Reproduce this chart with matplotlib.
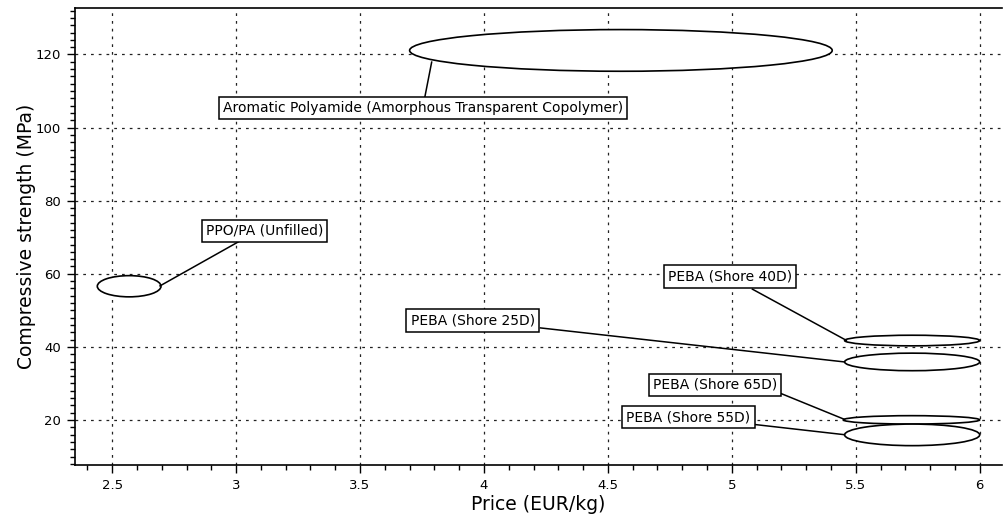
import matplotlib
matplotlib.use("Agg")
import matplotlib.pyplot as plt
from matplotlib.patches import Ellipse
from matplotlib.ticker import MultipleLocator

# Material bubbles: price (EUR/kg) range and compressive strength (MPa) range
materials = ["Aromatic Polyamide (Amorphous Transparent Copolymer)",
             "PPO/PA (Unfilled)",
             "PEBA (Shore 40D)",
             "PEBA (Shore 25D)",
             "PEBA (Shore 65D)",
             "PEBA (Shore 55D)"]
price_lo = [3.70, 2.44, 5.455, 5.455, 5.45, 5.455]
price_hi = [5.405, 2.697, 6.0, 6.0, 6.0, 6.0]
strength_lo = [115.4, 53.7, 40.3, 33.5, 18.9, 13.0]
strength_hi = [126.8, 59.5, 43.2, 38.3, 21.2, 18.9]

# Label box centres and leader-line endpoints
label_x = [3.753, 3.115, 4.993, 3.954, 4.932, 4.825]
label_y = [105.4, 71.8, 59.3, 47.2, 29.6, 20.8]
leader_from_x = [3.761, 3.008, 5.083, 4.228, 5.139, 5.09]
leader_from_y = [108.2, 68.7, 55.8, 45.2, 28.9, 18.8]
leader_to_x = [3.789, 2.693, 5.462, 5.454, 5.454, 5.454]
leader_to_y = [117.9, 56.7, 41.8, 35.9, 20.2, 16.0]

xticks = [2.5, 3, 3.5, 4, 4.5, 5, 5.5, 6]
xticklabels = ["2.5", "3", "3.5", "4", "4.5", "5", "5.5", "6"]
yticks = [20, 40, 60, 80, 100, 120]

plt.rcParams['font.family'] = ['DejaVu Sans']

fig = plt.figure(figsize=(10.04, 5.27), dpi=100)
ax = fig.add_axes([0.0747, 0.1176, 0.9233, 0.8672])
ax.set_xlim(2.35, 6.09)
ax.set_ylim(7.7, 132.7)

ax.grid(True, which='major', color='#222222', linestyle=(0, (2.2, 4.0)), linewidth=0.9)
ax.set_axisbelow(True)

for i, name in enumerate(materials):
    cx = (price_lo[i] + price_hi[i]) / 2
    cy = (strength_lo[i] + strength_hi[i]) / 2
    w = price_hi[i] - price_lo[i]
    h = strength_hi[i] - strength_lo[i]
    ax.add_patch(Ellipse((cx, cy), w, h, facecolor='white', edgecolor='black',
                         linewidth=1.2, zorder=3))

for i, name in enumerate(materials):
    ax.plot([leader_from_x[i], leader_to_x[i]], [leader_from_y[i], leader_to_y[i]],
            color='black', linewidth=1.1, zorder=4)
    ax.text(label_x[i], label_y[i], name, ha='center', va='center', fontsize=10,
            color='black', zorder=5,
            bbox=dict(boxstyle='square,pad=0.3', facecolor='white',
                      edgecolor='black', linewidth=1.1))

ax.set_xticks(xticks)
ax.set_xticklabels(xticklabels)
ax.set_yticks(yticks)
ax.xaxis.set_minor_locator(MultipleLocator(0.1))
ax.yaxis.set_minor_locator(MultipleLocator(2))
ax.tick_params(axis='both', which='major', labelsize=9.5, length=6, width=1.0,
               direction='out', pad=4)
ax.tick_params(axis='both', which='minor', length=3.5, width=1.0, direction='out')

for s in ['left', 'bottom', 'top']:
    ax.spines[s].set_linewidth(1.2)
    ax.spines[s].set_color('black')
ax.spines['right'].set_visible(False)

ax.set_xlabel("Price (EUR/kg)", fontsize=13.5, labelpad=2)
ax.set_ylabel("Compressive strength (MPa)", fontsize=13.5, labelpad=0)

fig.savefig("out.png", dpi=100)
